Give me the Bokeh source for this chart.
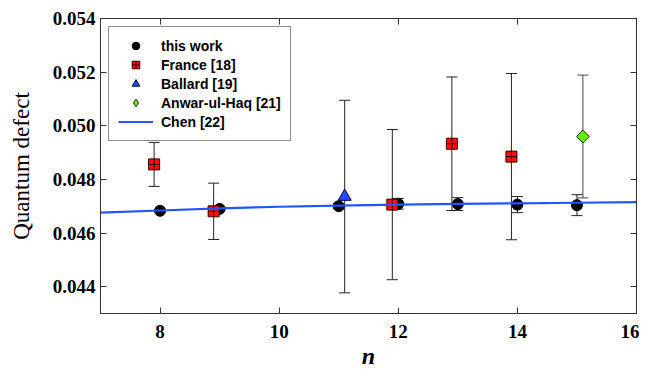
import math
from bokeh.plotting import figure
from bokeh.models import (ColumnDataSource, Whisker, TeeHead, Legend, LegendItem,
                          LinearAxis, FixedTicker, Range1d, PrintfTickFormatter)
from bokeh.embed import file_html
from bokeh.resources import INLINE

# ---- data ----
this_n = [8, 9, 11, 12, 13, 14, 15]
this_qd = [0.04683, 0.04690, 0.04700, 0.04709, 0.04708, 0.04706, 0.04704]
this_err = [0.00004, 0.00004, 0.00010, 0.00020, 0.00024, 0.00030, 0.00039]

france_n = [7.9, 8.9, 11.9, 12.9, 13.9]
france_qd = [0.04856, 0.04681, 0.04706, 0.04933, 0.04885]
france_err = [0.00082, 0.00105, 0.00280, 0.00249, 0.00310]

ballard_n = [11.1]
ballard_qd = [0.04736]
ballard_err = [0.00359]

anwar_n = [15.1]
anwar_qd = [0.04960]
anwar_err = [0.00229]

chen_n = [7, 8, 9, 10, 11, 12, 13, 14, 15, 16]
chen_qd = [0.04676, 0.04684, 0.04692, 0.04698, 0.04702, 0.04706, 0.04709,
           0.04711, 0.04713, 0.04715]

x_ticks = [8, 10, 12, 14, 16]
y_ticks = [0.044, 0.046, 0.048, 0.050, 0.052, 0.054]

# ---- figure ----
p = figure(frame_width=536, frame_height=295, output_backend="svg",
           toolbar_location=None,
           x_range=Range1d(7, 16), y_range=Range1d(0.043, 0.054),
           min_border_left=100, min_border_right=3, min_border_top=18,
           min_border_bottom=40, background_fill_color="white",
           border_fill_color="white")
p.xgrid.visible = False
p.ygrid.visible = False
p.outline_line_color = "#333333"
p.outline_line_width = 1

tick_font = "Liberation Serif"
for ax in (p.xaxis[0], p.yaxis[0]):
    ax.major_tick_in = 6
    ax.major_tick_out = 0
    ax.minor_tick_line_color = None
    ax.axis_line_color = "#333333"
    ax.major_tick_line_color = "#333333"
    ax.major_label_text_font = tick_font
    ax.major_label_text_font_style = "bold"
    ax.major_label_text_font_size = "19px"
    ax.major_label_text_color = "black"
    ax.axis_label_text_color = "black"

p.xaxis.ticker = FixedTicker(ticks=x_ticks)
p.yaxis.ticker = FixedTicker(ticks=y_ticks)
p.yaxis.formatter = PrintfTickFormatter(format="%.3f")
p.xaxis.major_label_standoff = 11
p.yaxis.major_label_standoff = 5

p.xaxis.axis_label = "n"
p.xaxis.axis_label_text_font = tick_font
p.xaxis.axis_label_text_font_style = "bold italic"
p.xaxis.axis_label_text_font_size = "24px"
p.xaxis.axis_label_standoff = 2

p.yaxis.axis_label = "Quantum defect"
p.yaxis.axis_label_text_font = tick_font
p.yaxis.axis_label_text_font_style = "normal"
p.yaxis.axis_label_text_font_size = "23px"
p.yaxis.axis_label_standoff = 16

# mirrored ticks (no labels drawn)
top = LinearAxis(ticker=FixedTicker(ticks=x_ticks), major_tick_in=6, major_tick_out=0,
                 minor_tick_line_color=None, major_label_text_font_size="1px",
                 major_label_text_color=None,
                 axis_line_color="#333333", major_tick_line_color="#333333",
                 major_label_standoff=0)
right = LinearAxis(ticker=FixedTicker(ticks=y_ticks), major_tick_in=6, major_tick_out=0,
                   minor_tick_line_color=None, major_label_text_font_size="1px",
                   major_label_text_color=None,
                   axis_line_color="#333333", major_tick_line_color="#333333",
                   major_label_standoff=0)
p.add_layout(top, "above")
p.add_layout(right, "right")

# ---- error bars ----
def add_err(xs, ys, es, color="#222222"):
    src = ColumnDataSource(dict(x=xs, lo=[y - e for y, e in zip(ys, es)],
                                hi=[y + e for y, e in zip(ys, es)]))
    w = Whisker(source=src, base="x", lower="lo", upper="hi", dimension="height",
                line_color=color, line_width=1,
                lower_head=TeeHead(size=11, line_color=color, line_width=1),
                upper_head=TeeHead(size=11, line_color=color, line_width=1))
    p.add_layout(w)

add_err(this_n, this_qd, this_err)
add_err(france_n, france_qd, france_err)
add_err(ballard_n, ballard_qd, ballard_err)
add_err(anwar_n, anwar_qd, anwar_err, color="#444444")

# ---- markers ----
GREEN = "#66ee00"
r_this = p.scatter(this_n, this_qd, marker="circle", size=11, fill_color="black",
                   line_color="black")
r_fr = p.scatter(france_n, france_qd, marker="square_cross", size=11,
                 fill_color="#ff1010", line_color="#330000", line_width=1)
r_ba = p.scatter(ballard_n, ballard_qd, marker="triangle", size=13,
                 fill_color="#1f4fff", line_color="#000033", line_width=1)
# zero-size diamond on the same point: invisible on the plot, gives the
# legend a diamond swatch (legend swatches ignore marker angle)
r_an_leg = p.scatter(anwar_n, anwar_qd, marker="diamond", size=0,
                     fill_color=GREEN, line_color="#113300", line_width=1)
r_an = p.scatter(anwar_n, anwar_qd, marker="square", size=9, angle=math.pi / 4,
                 fill_color=GREEN, line_color="#113300", line_width=1)
r_ch = p.line(chen_n, chen_qd, line_color="#2255ff", line_width=2.2)

legend = Legend(items=[
    LegendItem(label="this work", renderers=[r_this]),
    LegendItem(label="France [18]", renderers=[r_fr]),
    LegendItem(label="Ballard [19]", renderers=[r_ba]),
    LegendItem(label="Anwar-ul-Haq [21]", renderers=[r_an_leg]),
    LegendItem(label="Chen [22]", renderers=[r_ch]),
], location="top_left")
legend.margin = 8
legend.padding = 9
legend.spacing = 0
legend.glyph_height = 19
legend.label_height = 19
legend.glyph_width = 35
legend.label_standoff = 8
legend.label_text_font = "Liberation Sans"
legend.label_text_font_size = "14px"
legend.label_text_font_style = "bold"
legend.label_text_color = "black"
legend.border_line_color = "#222222"
legend.border_line_width = 1
legend.background_fill_alpha = 1
p.add_layout(legend)

open("out.html", "w").write(file_html(p, INLINE))
